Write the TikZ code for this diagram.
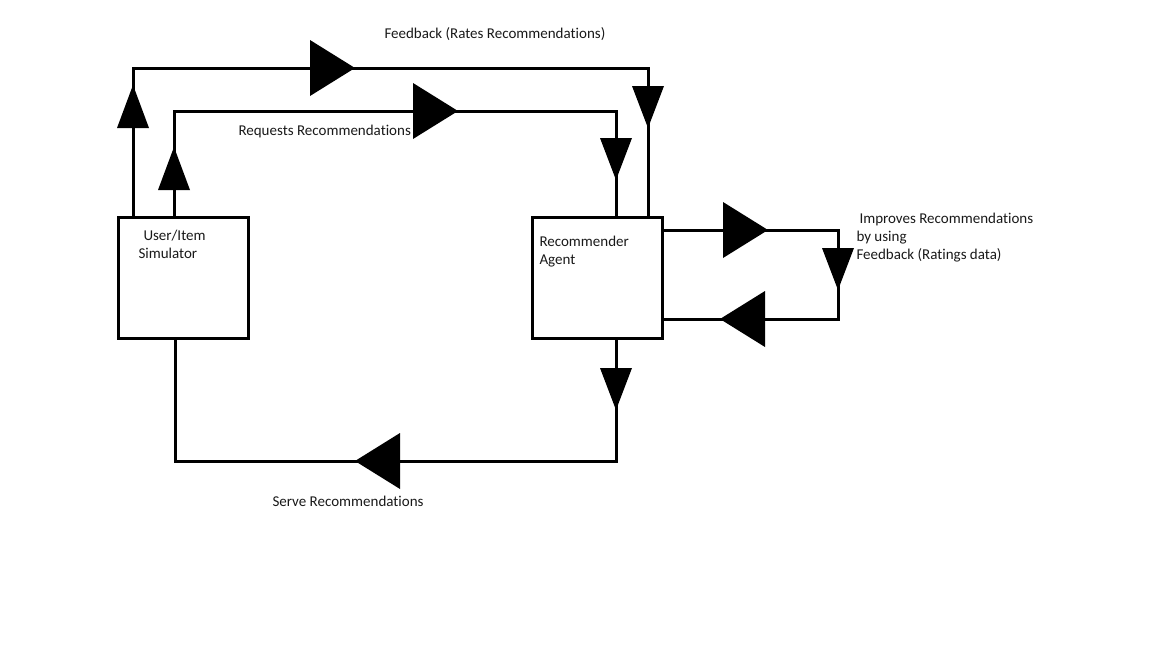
\documentclass[tikz,border=0pt]{standalone}
\usepackage{fontspec}
\setmainfont[Ligatures=NoCommon]{Carlito}
\usetikzlibrary{positioning}

% big filled heads, tip at (#1,#2)
\newcommand{\headR}[2]{\fill (#1,#2) -- ++(-45,-28) -- ++(0,56) -- cycle;}
\newcommand{\headL}[2]{\fill (#1,#2) -- ++(45,-28) -- ++(0,56) -- cycle;}
\newcommand{\headU}[2]{\fill (#1,#2) -- ++(-16,43) -- ++(32,0) -- cycle;}
\newcommand{\headD}[2]{\fill (#1,#2) -- ++(-16,-42) -- ++(32,0) -- cycle;}

\begin{document}
\begin{tikzpicture}[x=1pt, y=-1pt, line width=3pt,
	block/.style={draw, minimum width=130pt, minimum height=121pt, inner sep=0pt},
	lbl/.style={font=\fontsize{15}{18}\selectfont, text=black!90, inner sep=0pt, align=left}]
\useasboundingbox (0,0) rectangle (1152,648);

\node[block] (sim) at (183,277.5) {};
\node[block] (agent) at (597,277.5) {};
\node[lbl, anchor=north west] (simlbl) at (137,229) {\hspace{5pt}User/Item\\Simulator};
\node[lbl, anchor=north west] (agentlbl) at (538,235) {Recommender\\Agent};

% corners
\coordinate (fbL) at (133,68);
\coordinate (fbR) at (648,68);
\coordinate (rqL) at (174,111);
\coordinate (rqR) at (616,111);
\coordinate (imA) at (838,230);
\coordinate (imB) at (838,319);
\coordinate (svR) at (616,461);
\coordinate (svL) at (175,461);

\draw (sim.north -| fbL) -- (fbL) -- (fbR) -- (agent.north -| fbR);
\draw (sim.north -| rqL) -- (rqL) -- (rqR) -- (agent.north -| rqR);
\draw (agent.east |- imA) -- (imA) -- (imB) -- (agent.east |- imB);
\draw (agent.south -| svR) -- (svR) -- (svL) -- (sim.south -| svL);

\headU{133}{85} \headR{355}{68} \headD{648}{128}
\headU{174}{147} \headR{458}{111} \headD{616}{180}
\headR{768}{230} \headD{838}{290} \headL{720}{319}
\headD{616}{410} \headL{355}{461}

\node[lbl, anchor=west] (fblbl) at (383,34) {Feedback (Rates Recommendations)};
\node[lbl, anchor=west] (rqlbl) at (237,131) {Requests Recommendations};
\node[lbl, anchor=west] (svlbl) at (271,501) {Serve Recommendations};
\node[lbl, anchor=north west] (imlbl) at (855,212) {\hspace{3pt}Improves Recommendations\\by using\\Feedback (Ratings data)};
\end{tikzpicture}
\end{document}
